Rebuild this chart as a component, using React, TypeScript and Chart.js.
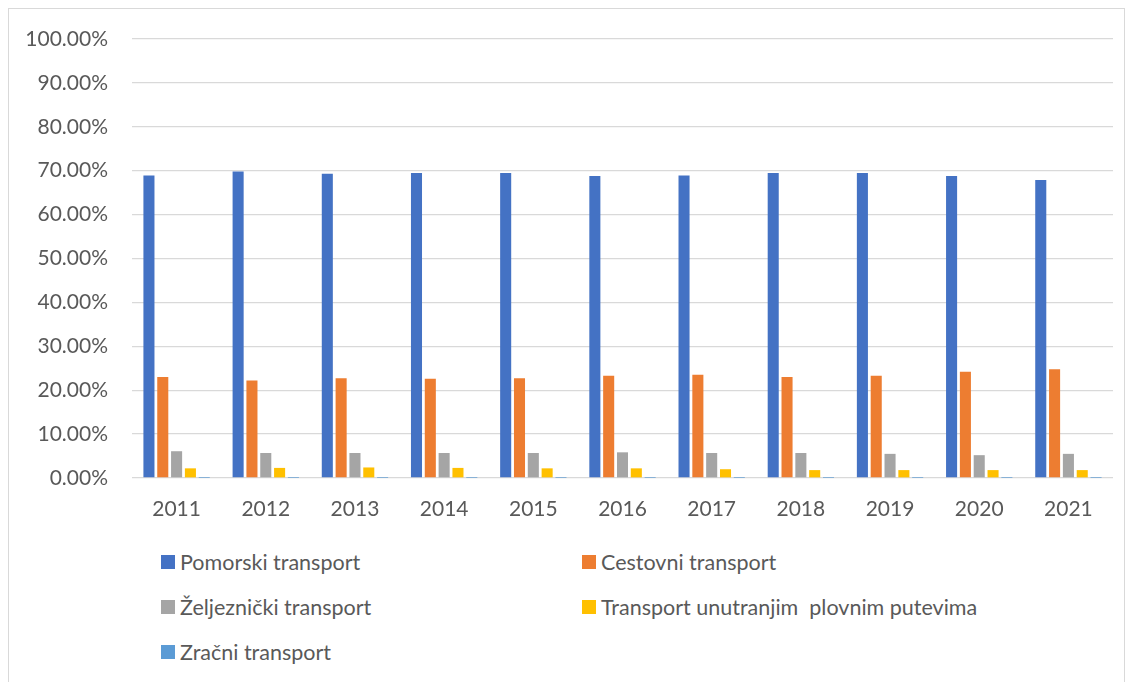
import React, { useEffect, useRef } from "react";
import { Chart, registerables } from "chart.js";

Chart.register(...registerables);

const years = ["2011", "2012", "2013", "2014", "2015", "2016", "2017", "2018", "2019", "2020", "2021"];
const pomorski = [68.9, 69.8, 69.3, 69.5, 69.5, 68.8, 68.9, 69.5, 69.5, 68.8, 67.9];
const cestovni = [23.0, 22.2, 22.7, 22.6, 22.7, 23.3, 23.5, 23.0, 23.3, 24.2, 24.8];
const zeljeznicki = [6.1, 5.7, 5.7, 5.7, 5.7, 5.85, 5.7, 5.7, 5.5, 5.2, 5.5];
const unutarnji = [2.2, 2.3, 2.4, 2.3, 2.2, 2.2, 2.0, 1.8, 1.8, 1.8, 1.8];
const zracni = [0.002, 0.002, 0.002, 0.002, 0.002, 0.002, 0.002, 0.002, 0.002, 0.002, 0.002];

const seriesNames = [
  "Pomorski transport",
  "Cestovni transport",
  "Željeznički transport",
  "Transport unutranjim  plovnim putevima",
  "Zračni transport",
];
const seriesColors = ["#4472C4", "#ED7D31", "#A5A5A5", "#FFC000", "#5B9BD5"];
const seriesValues = [pomorski, cestovni, zeljeznicki, unutarnji, zracni];

const TEXT = "#595959";
const FONT = "Lato, 'Open Sans', sans-serif";

export default function App() {
  const canvasRef = useRef<HTMLCanvasElement | null>(null);

  useEffect(() => {
    if (!canvasRef.current) return;
    const chart = new Chart(canvasRef.current, {
      type: "bar",
      data: {
        labels: years,
        datasets: seriesNames.map((name, i) => ({
          label: name,
          data: seriesValues[i],
          backgroundColor: seriesColors[i],
          borderWidth: 0,
          categoryPercentage: 0.775,
          barPercentage: 0.8,
        })),
      },
      options: {
        animation: false,
        responsive: true,
        maintainAspectRatio: false,
        layout: { padding: { top: 30, right: 11, bottom: 0, left: 0 } },
        plugins: {
          legend: { display: false },
          tooltip: { enabled: false },
        },
        scales: {
          x: {
            grid: { display: false },
            border: { display: false },
            ticks: {
              color: TEXT,
              font: { family: FONT, size: 21 },
              padding: 11,
              maxRotation: 0,
            },
            afterFit: (scale: any) => {
              scale.height = 61;
            },
          },
          y: {
            min: 0,
            max: 100,
            border: { display: false },
            grid: { color: "#d9d9d9", lineWidth: 1.3, drawTicks: false },
            ticks: {
              stepSize: 10,
              color: TEXT,
              font: { family: FONT, size: 21 },
              padding: 24,
              callback: (v: any) => Number(v).toFixed(2) + "%",
            },
            afterFit: (scale: any) => {
              scale.width = 123;
              scale.paddingTop = 0;
              scale.paddingBottom = 0;
            },
          },
        },
      },
    });
    return () => chart.destroy();
  }, []);

  return (
    <div
      style={{
        position: "relative",
        width: 1117,
        height: 690,
        border: "1px solid #d9d9d9",
        boxSizing: "border-box",
        background: "#fff",
        fontFamily: FONT,
      }}
    >
      <div style={{ position: "relative", width: 1115, height: 530 }}>
        <canvas ref={canvasRef} />
      </div>
      <div
        style={{
          position: "absolute",
          left: 152,
          top: 530,
          display: "grid",
          gridTemplateColumns: "421px auto",
          gridAutoRows: "45.3px",
        }}
      >
        {seriesNames.map((name, i) => (
          <div key={name} style={{ display: "flex", alignItems: "center", color: TEXT, fontSize: 21.5 }}>
            <span
              style={{
                display: "inline-block",
                width: 14,
                height: 14,
                background: seriesColors[i],
                marginRight: 5,
              }}
            />
            <span style={{ whiteSpace: "pre" }}>{name}</span>
          </div>
        ))}
      </div>
    </div>
  );
}
